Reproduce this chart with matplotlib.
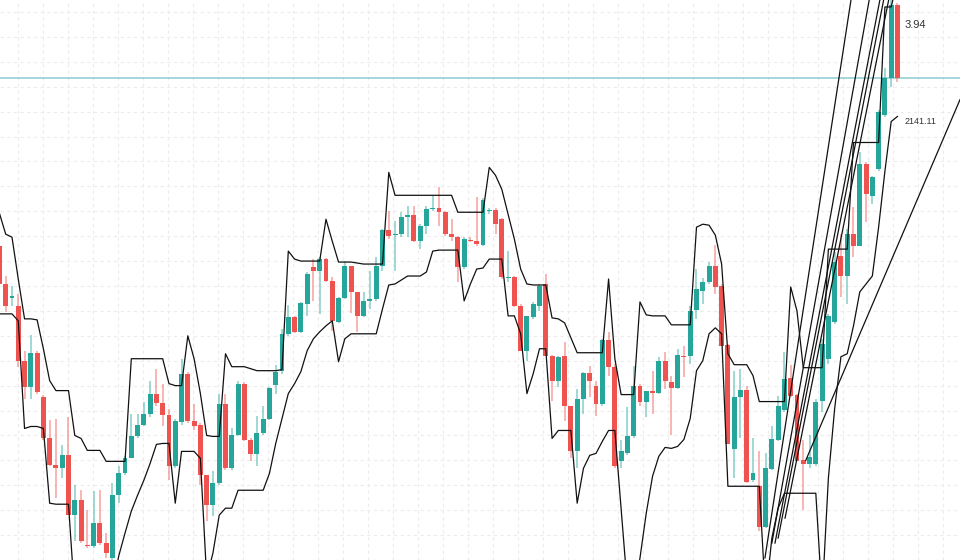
import numpy as np
import matplotlib
matplotlib.use("Agg")
import matplotlib.pyplot as plt

# OHLC per candle (144 bars)
open_ = [
    2011, 1973, 1959, 1951, 1896, 1870, 1904, 1860, 1818, 1791,
    1788, 1801, 1741, 1756, 1711, 1710, 1733, 1713, 1698, 1761,
    1783, 1798, 1820, 1831, 1843, 1863, 1854, 1842, 1790, 1834,
    1883, 1835, 1831, 1781, 1751, 1773, 1853, 1788, 1821, 1873,
    1816, 1802, 1823, 1838, 1872, 1886, 1923, 1940, 1925, 1953,
    1990, 1986, 1998, 1976, 1935, 1959, 1991, 1965, 1941, 1956,
    1958, 1991, 2027, 2022, 2023, 2040, 2042, 2016, 2031, 2048,
    2049, 2045, 2023, 2020, 1990, 2017, 2016, 2012, 2046, 2047,
    2038, 1979, 1980, 1951, 1906, 1940, 1951, 1973, 1901, 1876,
    1901, 1851, 1805, 1858, 1884, 1871, 1853, 1917, 1890, 1795,
    1803, 1820, 1871, 1855, 1865, 1864, 1896, 1875, 1869, 1901,
    1901, 1947, 1966, 1975, 1991, 1971, 1912, 1807, 1860, 1867,
    1776, 1770, 1729, 1787, 1816, 1847, 1879, 1862, 1796, 1792,
    1792, 1856, 1898, 1935, 2001, 1981, 2023, 2011, 2093, 2061,
    2088, 2143, 2180, 2253]
high = [
    2015, 1981, 1971, 1963, 1906, 1922, 1906, 1862, 1836, 1838,
    1811, 1840, 1771, 1766, 1746, 1765, 1766, 1723, 1773, 1790,
    1800, 1843, 1843, 1855, 1876, 1888, 1873, 1848, 1838, 1898,
    1885, 1853, 1833, 1781, 1785, 1863, 1863, 1828, 1876, 1875,
    1818, 1841, 1851, 1870, 1892, 1928, 1952, 1941, 1955, 1985,
    1998, 2000, 1999, 1980, 1960, 1996, 1991, 1965, 1965, 1986,
    2000, 2028, 2046, 2036, 2045, 2051, 2051, 2033, 2051, 2061,
    2070, 2046, 2038, 2021, 2020, 2020, 2060, 2059, 2049, 2049,
    2039, 2006, 1981, 1953, 1941, 1955, 1973, 1983, 1902, 1901,
    1915, 1851, 1868, 1885, 1891, 1876, 1918, 1925, 1893, 1816,
    1850, 1891, 1873, 1866, 1886, 1900, 1905, 1881, 1908, 1911,
    1951, 1988, 1979, 1995, 2012, 1973, 1913, 1886, 1888, 1871,
    1818, 1805, 1803, 1830, 1861, 1905, 1892, 1863, 1816, 1821,
    1858, 1918, 1943, 2005, 2023, 2028, 2050, 2105, 2095, 2081,
    2148, 2190, 2258, 2255]
low = [
    1968, 1945, 1951, 1890, 1858, 1858, 1863, 1816, 1790, 1758,
    1778, 1741, 1715, 1713, 1708, 1708, 1711, 1698, 1696, 1753,
    1781, 1798, 1818, 1830, 1840, 1851, 1830, 1776, 1788, 1831,
    1833, 1826, 1771, 1735, 1740, 1771, 1786, 1786, 1820, 1815,
    1795, 1790, 1821, 1836, 1863, 1883, 1921, 1924, 1924, 1941,
    1956, 1943, 1975, 1926, 1934, 1958, 1944, 1925, 1940, 1948,
    1956, 1986, 2018, 1986, 2020, 2020, 2015, 2008, 2023, 2046,
    2031, 2021, 2016, 1975, 1988, 2015, 2011, 2011, 2043, 2023,
    1978, 1975, 1950, 1906, 1896, 1938, 1946, 1901, 1856, 1870,
    1835, 1798, 1788, 1843, 1860, 1841, 1851, 1881, 1788, 1788,
    1801, 1818, 1851, 1840, 1843, 1863, 1868, 1821, 1868, 1880,
    1893, 1938, 1953, 1973, 1963, 1911, 1812, 1778, 1818, 1773,
    1774, 1725, 1728, 1786, 1815, 1845, 1860, 1795, 1746, 1788,
    1790, 1845, 1893, 1933, 1960, 1953, 2000, 2011, 2035, 2053,
    2086, 2141, 2171, 2176]
close = [
    1973, 1951, 1961, 1896, 1870, 1904, 1865, 1818, 1791, 1788,
    1801, 1741, 1756, 1715, 1710, 1733, 1713, 1703, 1761, 1783,
    1798, 1820, 1831, 1843, 1863, 1854, 1842, 1790, 1835, 1883,
    1835, 1830, 1781, 1751, 1773, 1853, 1788, 1821, 1873, 1816,
    1802, 1823, 1838, 1869, 1885, 1923, 1940, 1925, 1954, 1983,
    1986, 1998, 1976, 1936, 1959, 1991, 1965, 1941, 1956, 1958,
    1991, 2027, 2021, 2023, 2040, 2042, 2016, 2031, 2048, 2049,
    2045, 2023, 2020, 1990, 2018, 2016, 2013, 2057, 2047, 2033,
    1980, 1980, 1951, 1906, 1941, 1953, 1971, 1901, 1876, 1900,
    1851, 1805, 1858, 1884, 1876, 1853, 1917, 1890, 1790, 1805,
    1820, 1871, 1855, 1866, 1864, 1896, 1876, 1869, 1902, 1900,
    1946, 1968, 1975, 1991, 1970, 1911, 1812, 1860, 1867, 1774,
    1783, 1729, 1788, 1817, 1851, 1878, 1861, 1795, 1792, 1799,
    1855, 1913, 1941, 1995, 1981, 2023, 2011, 2093, 2063, 2080,
    2146, 2180, 2253, 2180]

# channel lines
upper = [
    2044, 2023, 2020, 1978, 1938, 1938, 1937, 1908, 1876, 1866,
    1866, 1866, 1821, 1818, 1806, 1806, 1806, 1795, 1795, 1795,
    1795, 1898, 1898, 1898, 1898, 1898, 1898, 1873, 1871, 1871,
    1921, 1898, 1863, 1821, 1820, 1820, 1903, 1890, 1890, 1890,
    1888, 1886, 1886, 1886, 1886, 1887, 2006, 1998, 1996, 1996,
    1996, 1996, 2038, 2016, 1995, 1995, 1995, 1994, 1993, 1993,
    1993, 1993, 2085, 2062, 2062, 2062, 2062, 2062, 2062, 2062,
    2062, 2062, 2062, 2045, 2045, 2045, 2045, 2045, 2090, 2082,
    2068, 2043, 2018, 1988, 1973, 1972, 1972, 1972, 1939, 1938,
    1934, 1919, 1904, 1904, 1904, 1904, 1904, 1978, 1898, 1862,
    1862, 1862, 1955, 1942, 1941, 1941, 1941, 1932, 1932, 1932,
    1932, 2030, 2033, 2032, 2022, 1993, 1903, 1892, 1892, 1892,
    1881, 1855, 1855, 1855, 1855, 1855, 1970, 1946, 1889, 1889,
    1889, 1889, 2008, 2008, 2008, 2008, 2115, 2115, 2115, 2115,
    2115, 2251, 2251, 2278]
lower = [
    1943, 1943, 1943, 1936, 1828, 1830, 1830, 1828, 1753, 1752,
    1752, 1752, 1658, 1638, 1638, 1638, 1638, 1648, 1668, 1700,
    1723, 1745, 1761, 1776, 1793, 1812, 1813, 1813, 1753, 1805,
    1805, 1805, 1798, 1678, 1703, 1741, 1748, 1748, 1766, 1766,
    1766, 1766, 1766, 1783, 1813, 1838, 1863, 1873, 1885, 1906,
    1918, 1925, 1931, 1936, 1895, 1918, 1923, 1923, 1923, 1923,
    1923, 1948, 1972, 1973, 1977, 1981, 1981, 1981, 1985, 2006,
    2007, 2007, 2007, 2007, 1956, 1973, 1988, 1989, 1998, 1998,
    1998, 1941, 1941, 1923, 1863, 1883, 1908, 1908, 1818, 1826,
    1826, 1826, 1753, 1788, 1801, 1803, 1815, 1826, 1826, 1748,
    1668, 1658, 1698, 1743, 1780, 1800, 1809, 1808, 1810, 1817,
    1838, 1886, 1896, 1923, 1929, 1923, 1770, 1770, 1770, 1770,
    1770, 1770, 1658, 1718, 1748, 1763, 1763, 1763, 1763, 1763,
    1763, 1658, 1778, 1848, 1900, 1903, 1931, 1965, 1973, 1981,
    2030, 2086, 2136, 2141.11]

# fan / trend lines: (start bar, start price, end bar, end price)
fan_x0 = [121.9, 123.0, 123.5, 124.0, 125.1, 128.4]
fan_y0 = [1698, 1713, 1713, 1718, 1738, 1796]
fan_x1 = [135.6, 138.5, 140.2, 140.8, 141.6, 152.96]
fan_y1 = [2258, 2258, 2258, 2258, 2258, 2158]

change_label = "3.94"

UP = "#26a69a"
DOWN = "#ef5350"

o = np.array(open_, float)
h = np.array(high, float)
l = np.array(low, float)
c = np.array(close, float)
x = np.arange(len(o))
up = c >= o

fig = plt.figure(figsize=(9.6, 5.6), dpi=100)
ax = fig.add_axes([0, 0, 1, 1])

# wicks
ax.vlines(x[up], l[up], h[up], color=UP, alpha=0.55, lw=1.1, zorder=2)
ax.vlines(x[~up], l[~up], h[~up], color=DOWN, alpha=0.55, lw=1.1, zorder=2)
# bodies
body_lo = np.minimum(o, c)
body_h = np.maximum(np.abs(c - o), 1.2)
ax.bar(x[up], body_h[up], bottom=body_lo[up], width=0.78, color=UP, zorder=3)
ax.bar(x[~up], body_h[~up], bottom=body_lo[~up], width=0.78, color=DOWN, zorder=3)

# channel
ax.plot(x, upper, color="#111111", lw=0.9, zorder=4)
ax.plot(x, lower, color="#111111", lw=0.9, zorder=4)

# fan lines
for xa, ya, xb, yb in zip(fan_x0, fan_y0, fan_x1, fan_y1):
    ax.plot([xa, xb], [ya, yb], color="#111111", lw=0.9, zorder=4)

# last price line
ax.axhline(c[-1], color="#8ccbd2", lw=1.1, zorder=1)

ax.text(144.2, 2233, change_label, fontsize=8, color="#333333",
        family="Liberation Sans", va="center", ha="left")
ax.text(144.2, lower[-1] - 5, f"{lower[-1]:.2f}", fontsize=6.5, color="#333333",
        family="Liberation Sans", va="center", ha="left")

ax.set_xlim(0.0924, 152.96)
ax.set_ylim(1698, 2258)
ax.set_xticks(np.arange(2.96, 153, 25 / 6.28))
ax.set_yticks(np.arange(1696, 2250, 25))
ax.grid(True, color="#ececec", linestyle=(0, (3, 3)), lw=0.8, zorder=0)
ax.set_axisbelow(True)
ax.tick_params(length=0, labelbottom=False, labelleft=False)
for s in ax.spines.values():
    s.set_visible(False)

fig.savefig("out.png", dpi=100)
